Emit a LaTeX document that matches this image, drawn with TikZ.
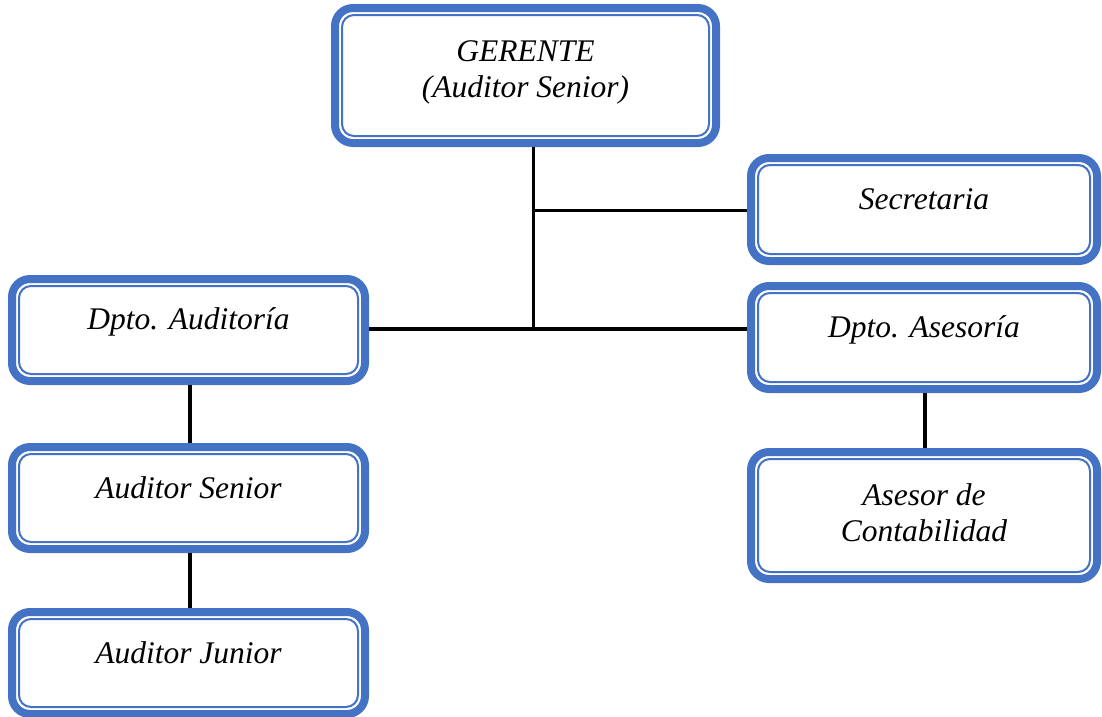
\documentclass[tikz,border=0pt]{standalone}
\usepackage{fontspec}
\setmainfont{Liberation Serif}
\definecolor{boxblue}{HTML}{4472C4}
\tikzset{
  outerbox/.style={draw=boxblue, line width=8pt, rounded corners=18pt, fill=white, inner sep=0pt},
  innerbox/.style={draw=boxblue, line width=2pt, rounded corners=12pt, inner sep=0pt},
  boxtext/.style={anchor=base, inner sep=0pt, font=\fontsize{31.5}{36}\selectfont\itshape},
  link/.style={draw=black, line width=3.5pt},
}
\begin{document}
\begin{tikzpicture}[x=1pt, y=-1pt]
\useasboundingbox (0,0) rectangle (1102,716);
% boxes
\node[outerbox, minimum width=381pt, minimum height=135pt] (ger) at (525.5,75.5) {};
\node[innerbox, minimum width=367pt, minimum height=121pt] (geri) at (ger.center) {};
\node[outerbox, minimum width=346pt, minimum height=103pt] (sec) at (924,209.5) {};
\node[innerbox, minimum width=332pt, minimum height=89pt] (seci) at (sec.center) {};
\node[outerbox, minimum width=353pt, minimum height=102pt] (dau) at (188.5,330) {};
\node[innerbox, minimum width=339pt, minimum height=88pt] (daui) at (dau.center) {};
\node[outerbox, minimum width=346pt, minimum height=103pt] (das) at (924,337.5) {};
\node[innerbox, minimum width=332pt, minimum height=89pt] (dasi) at (das.center) {};
\node[outerbox, minimum width=353pt, minimum height=102pt] (as) at (188.5,498) {};
\node[innerbox, minimum width=339pt, minimum height=88pt] (asi) at (as.center) {};
\node[outerbox, minimum width=346pt, minimum height=127pt] (ase) at (924,515.5) {};
\node[innerbox, minimum width=332pt, minimum height=113pt] (asei) at (ase.center) {};
\node[outerbox, minimum width=353pt, minimum height=102pt] (aj) at (188.5,663) {};
\node[innerbox, minimum width=339pt, minimum height=88pt] (aji) at (aj.center) {};
% texts
\node[boxtext] (tger) at ([yshift=-22pt]ger.center) {\begin{tabular}[b]{@{}c@{}}GERENTE\\(Auditor Senior)\end{tabular}};
\node[boxtext] (tsec) at (sec.center) {Secretaria};
\node[boxtext] (tdau) at ([yshift=1pt]dau.center) {Dpto. Auditoría};
\node[boxtext] (tdas) at (das.center) {Dpto. Asesoría};
\node[boxtext] (tas) at (as.center) {Auditor Senior};
\node[boxtext] (tase) at ([yshift=-26pt]ase.center) {\begin{tabular}[b]{@{}c@{}}Asesor de\\Contabilidad\end{tabular}};
\node[boxtext] (taj) at (aj.center) {Auditor Junior};
% connectors
\coordinate (j1) at (533.5,210.5);
\coordinate (j2) at (533.5,329);
\draw[link] (ger.south -| j1) -- (j2);
\draw[link] (j1) -- (sec.west |- j1);
\draw[link] (dau.east |- j2) -- (das.west |- j2);
\draw[link] ([xshift=1.5pt]dau.south) -- ([xshift=1.5pt]as.north);
\draw[link] ([xshift=1.5pt]as.south) -- ([xshift=1.5pt]aj.north);
\draw[link] ([xshift=1pt]das.south) -- ([xshift=1pt]ase.north);
\end{tikzpicture}
\end{document}
